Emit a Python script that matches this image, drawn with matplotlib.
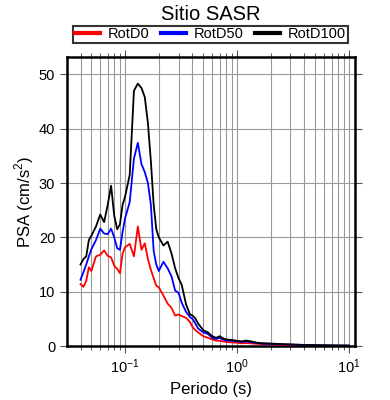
import matplotlib
matplotlib.use("Agg")
import matplotlib.pyplot as plt
from matplotlib.ticker import LogLocator, NullFormatter, MultipleLocator

plt.rcParams['font.family'] = ['Liberation Sans', 'DejaVu Sans']
plt.rcParams['mathtext.fontset'] = 'custom'
plt.rcParams['mathtext.rm'] = 'Liberation Sans'

periods = [0.04, 0.0425, 0.045, 0.0475, 0.05, 0.055, 0.06, 0.065, 0.07, 0.075, 0.08, 0.085,
           0.09, 0.095, 0.1, 0.11, 0.12, 0.13, 0.14, 0.15, 0.16, 0.17, 0.18, 0.19, 0.2, 0.22,
           0.24, 0.26, 0.28, 0.3, 0.32, 0.35, 0.38, 0.4, 0.42, 0.45, 0.5, 0.55, 0.6, 0.65, 0.7,
           0.75, 0.8, 0.9, 1.0, 1.1, 1.2, 1.3, 1.5, 1.7, 2.0, 2.5, 3.0, 4.0, 5.0, 7.5, 10.0]

rotd100 = [15.0, 16.0, 16.5, 19.5, 20.3, 22.0, 24.2, 22.8, 26.0, 29.5, 24.0, 21.5,
           22.4, 26.0, 27.5, 31.5, 47.0, 48.3, 47.5, 45.8, 41.0, 34.0, 26.0, 21.5, 20.0, 18.5,
           19.2, 17.0, 14.3, 12.5, 11.3, 7.7, 5.8, 5.6, 5.2, 4.1, 2.9, 2.5, 1.8, 1.5, 1.8,
           1.4, 1.2, 1.1, 0.95, 0.85, 1.0, 0.9, 0.6, 0.5, 0.45, 0.35, 0.3, 0.2, 0.15, 0.1, 0.08]

rotd50 = [12.2, 13.6, 15.0, 16.5, 17.8, 19.5, 21.6, 20.7, 20.6, 21.6, 20.0, 18.0,
          17.7, 21.0, 23.5, 26.5, 34.5, 37.4, 33.5, 32.0, 30.0, 26.0, 17.5, 15.0, 13.8, 15.5,
          14.3, 12.8, 10.2, 9.8, 8.0, 6.3, 5.3, 5.0, 4.3, 3.2, 2.5, 2.2, 1.5, 1.3, 1.5,
          1.2, 1.05, 0.95, 0.85, 0.75, 0.85, 0.75, 0.55, 0.45, 0.4, 0.3, 0.25, 0.18, 0.13, 0.08, 0.06]

rotd0 = [11.4, 10.9, 12.0, 14.5, 13.8, 16.5, 16.8, 17.6, 16.6, 16.3, 14.8, 14.2,
         13.4, 17.0, 18.2, 18.8, 16.5, 22.0, 17.7, 18.9, 16.0, 14.0, 12.5, 11.1, 10.8, 9.3,
         7.8, 7.0, 5.6, 5.8, 5.5, 5.2, 4.4, 3.5, 3.0, 2.5, 1.8, 1.5, 1.2, 1.0, 0.95,
         0.85, 0.75, 0.65, 0.6, 0.5, 0.55, 0.5, 0.4, 0.35, 0.3, 0.22, 0.18, 0.12, 0.1, 0.06, 0.05]

series_names = ['RotD0', 'RotD50', 'RotD100']
series_colors = ['#ff0000', '#0000ff', '#000000']

fig = plt.figure(figsize=(3.9, 4.0), dpi=100)
ax = fig.add_axes([67/390, 1-346/400, (355-67)/390, (346-57)/400])

for vals, name, col in zip([rotd0, rotd50, rotd100], series_names, series_colors):
    ax.plot(periods, vals, color=col, lw=1.3, label=name, zorder=3)

ax.set_xscale('log')
ax.set_xlim(0.0303, 11.3)
ax.set_ylim(0, 53.2)
ax.yaxis.set_major_locator(MultipleLocator(10))
ax.xaxis.set_major_locator(LogLocator(base=10, numticks=10))
ax.xaxis.set_minor_locator(LogLocator(base=10, subs=range(2, 10), numticks=20))
ax.xaxis.set_minor_formatter(NullFormatter())

ax.grid(True, which='major', axis='both', color='#999999', lw=0.8)
ax.grid(True, which='minor', axis='x', color='#999999', lw=0.8)
ax.set_axisbelow(True)

for s in ax.spines.values():
    s.set_linewidth(1.8)

ax.tick_params(which='both', direction='out', top=True, right=True, labelsize=10.5,
               color='#555555')
ax.tick_params(which='major', length=5, width=0.8)
ax.tick_params(which='minor', length=3, width=0.7)

ax.set_xlabel('Periodo (s)', fontsize=12, labelpad=4)
ax.set_ylabel('PSA (cm/s$^2$)', fontsize=12, labelpad=2)

fig.text(0.5 * (67 + 355) / 390, 1 - 14/400, 'Sitio SASR', ha='center', va='center', fontsize=14.5)

leg = fig.legend(loc='center', bbox_to_anchor=(210.5/390, 1-34.5/400),
                 ncol=3, fontsize=10.5, frameon=True, fancybox=False,
                 handlelength=1.7, handletextpad=0.55, borderpad=0.12, borderaxespad=0,
                 columnspacing=0.8)
leg.get_frame().set_edgecolor('black')
leg.get_frame().set_linewidth(1.5)
for h in leg.legend_handles:
    h.set_linewidth(3)

fig.savefig('out.png', dpi=100)
